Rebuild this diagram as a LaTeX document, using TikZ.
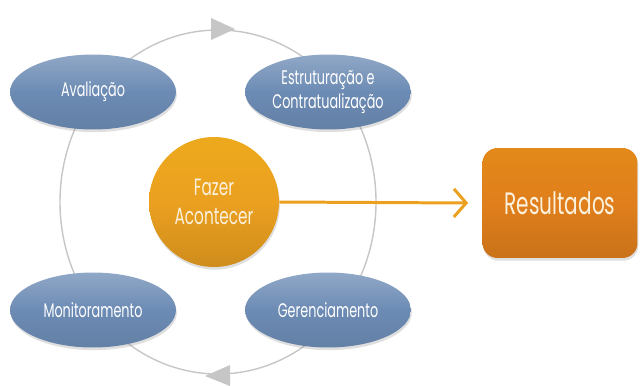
\documentclass[tikz,border=0pt]{standalone}
\usepackage{fontspec}
\setmainfont{Poppins}[FakeStretch=0.65]
\usepackage{tikz}
\usetikzlibrary{positioning, arrows.meta, shapes.geometric, shadows, decorations.markings}

\definecolor{stepblue}{HTML}{6C8BB4}
\definecolor{ringgray}{HTML}{C6C6C6}
\definecolor{fazerorange}{HTML}{EBA020}
\definecolor{resorange}{HTML}{E07F1C}
\definecolor{textcream}{HTML}{FBF1DC}

\begin{document}
\begin{tikzpicture}[
    x=0.02cm, y=-0.02cm,
    stage/.style={ellipse, minimum width=3.32cm, minimum height=1.5cm, inner sep=0pt,
        top color=stepblue!75!white, bottom color=stepblue!92!black, middle color=stepblue,
        drop shadow={opacity=0.25, shadow xshift=0.5pt, shadow yshift=-1.5pt},
        text=white, align=center, font=\fontsize{11.2}{13.5}\selectfont},
    core/.style={circle, minimum size=2.6cm, inner sep=0pt,
        top color=fazerorange!90!yellow, bottom color=fazerorange!88!black, middle color=fazerorange,
        drop shadow={opacity=0.25, shadow xshift=0.5pt, shadow yshift=-1.5pt},
        text=textcream, align=center, font=\fontsize{13.4}{16.5}\selectfont},
    result/.style={rectangle, rounded corners=0.3cm, minimum width=3.1cm, minimum height=2.2cm,
        top color=resorange!92!yellow, bottom color=resorange!90!black, middle color=resorange,
        drop shadow={opacity=0.25, shadow xshift=0.5pt, shadow yshift=-1.5pt},
        text=textcream, font=\fontsize{17.6}{20}\selectfont},
    ring/.style={draw=ringgray, line width=0.8pt},
    flow/.style={draw=fazerorange, line width=1.7pt, -{Straight Barb[length=7pt, width=16pt, line width=1.7pt]}},
    cyclehead/.style={fill=ringgray, draw=none}
]

\useasboundingbox (0,0) rectangle (641,385);

% ring behind the stages
\draw[ring] (218,202) ellipse [x radius=158, y radius=172];
\fill[cyclehead] (211,18) -- (235,29) -- (211,40) -- cycle;
\fill[cyclehead] (230,365) -- (205,376) -- (230,386) -- cycle;

\node[stage] (aval) at (93,92) {Avaliação};
\node[stage] (estr) at (328,92) {Estruturação e\\Contratualização};
\node[stage] (moni) at (93,310) {Monitoramento};
\node[stage] (gere) at (328,310) {Gerenciamento};

\node[core] (fazer) at (214,202) {Fazer\\Acontecer};
\node[result] (res) at (560,203) {Resultados};

\draw[flow] (fazer.east) -- ([xshift=-0.28cm]res.west);

\end{tikzpicture}
\end{document}
